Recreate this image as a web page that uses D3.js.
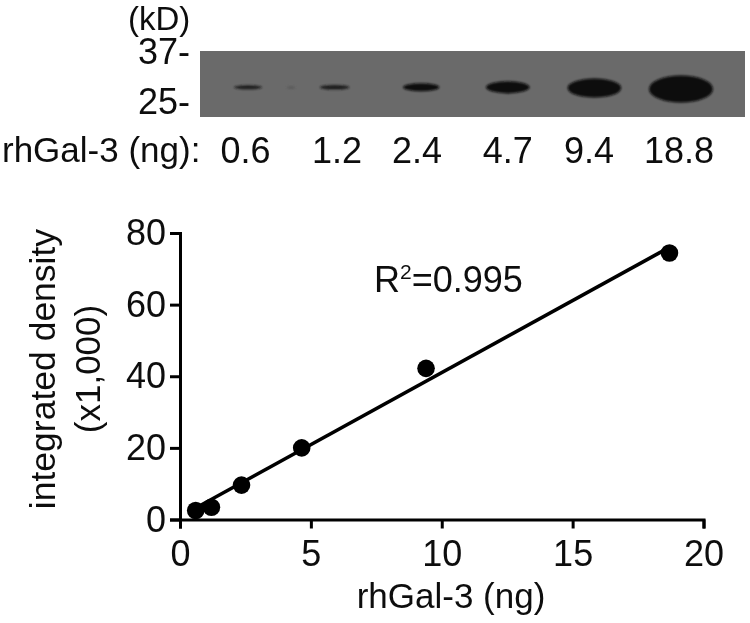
<!DOCTYPE html>
<html>
<head>
<meta charset="utf-8">
<script src="https://cdnjs.cloudflare.com/ajax/libs/d3/7.8.5/d3.min.js"></script>
<style>
html, body { margin: 0; padding: 0; background: #fff; }
svg { display: block; }
text { font-family: "Liberation Sans", Arial, sans-serif; fill: #111; }
</style>
</head>
<body>
<div id="chart"></div>
<script>
// blot lanes
var laneLabels = ["0.6", "1.2", "2.4", "4.7", "9.4", "18.8"];
var laneDensity = [2.5, 3.4, 9.6, 20, 42.2, 74.4];
var mwLabels = ["37-", "25-"];

// standard curve
var amounts = [0.6, 1.2, 2.35, 4.65, 9.4, 18.7];
var density = [2.5, 3.4, 9.6, 20, 42.2, 74.4];
var fitX = [0.6, 18.45];
var fitY = [3.2, 75];
var xTicks = [0, 5, 10, 15, 20];
var yTicks = [0, 20, 40, 60, 80];

var width = 750, height = 623;

var svg = d3.select("#chart").append("svg")
	.attr("width", width)
	.attr("height", height);

var defs = svg.append("defs");
defs.append("filter").attr("id", "bandBlur")
	.attr("x", "-50%").attr("y", "-100%").attr("width", "200%").attr("height", "300%")
	.append("feGaussianBlur").attr("stdDeviation", 1.3);
defs.append("filter").attr("id", "soft")
	.attr("x", "-5%").attr("y", "-5%").attr("width", "110%").attr("height", "110%")
	.append("feGaussianBlur").attr("stdDeviation", 0.45);

// ---- blot ----
var blot = svg.append("g");

blot.append("rect")
	.attr("x", 200).attr("y", 51)
	.attr("width", 545).attr("height", 66)
	.attr("fill", "#6a6a6a");

var laneX = d3.scalePoint().domain(laneLabels).range([248, 681]);
var rx = d3.scalePow().exponent(0.45).domain([2.5, 74.4]).range([14, 32]);
var ry = d3.scalePow().exponent(0.65).domain([2.5, 74.4]).range([2, 13.5]);

// little smudge between the first two lanes
blot.append("ellipse")
	.attr("cx", 291).attr("cy", 87.5)
	.attr("rx", 4).attr("ry", 1)
	.attr("fill", "#555")
	.attr("filter", "url(#bandBlur)");

blot.selectAll("ellipse.band")
	.data(laneLabels)
	.enter().append("ellipse")
	.attr("class", "band")
	.attr("cx", function(d) { return laneX(d); })
	.attr("cy", function(d, i) { return i < 4 ? 87.3 : 84 + i; })
	.attr("rx", function(d, i) { return rx(laneDensity[i]); })
	.attr("ry", function(d, i) { return ry(laneDensity[i]); })
	.attr("fill", function(d, i) { return i < 2 ? "#1e1e1e" : "#0d0d0d"; })
	.attr("filter", "url(#bandBlur)");

var labels = svg.append("g").attr("filter", "url(#soft)");

labels.append("text")
	.attr("x", 128).attr("y", 30)
	.attr("font-size", 33)
	.text("(kD)");

labels.selectAll("text.mw")
	.data(mwLabels)
	.enter().append("text")
	.attr("class", "mw")
	.attr("x", 190)
	.attr("y", function(d, i) { return i == 0 ? 64 : 114; })
	.attr("text-anchor", "end")
	.attr("font-size", 36)
	.text(function(d) { return d; });

labels.append("text")
	.attr("x", 2).attr("y", 162)
	.attr("font-size", 35)
	.text("rhGal-3 (ng):");

var laneShift = [-2.5, 2.4, -4.2, 0, -5.4, -2];
labels.selectAll("text.lane")
	.data(laneLabels)
	.enter().append("text")
	.attr("class", "lane")
	.attr("x", function(d, i) { return laneX(d) + laneShift[i]; })
	.attr("y", 163)
	.attr("text-anchor", "middle")
	.attr("font-size", 36)
	.text(function(d) { return d; });

// ---- curve ----
var x = d3.scaleLinear().domain([0, 20]).range([180, 703.5]);
var y = d3.scaleLinear().domain([0, 80]).range([519.5, 233]);

var plot = svg.append("g").attr("filter", "url(#soft)");

var xAxis = plot.append("g")
	.attr("transform", "translate(0,519.5)")
	.call(d3.axisBottom(x).tickValues(xTicks).tickSize(9).tickPadding(12).tickFormat(d3.format("d")));

var yAxis = plot.append("g")
	.attr("transform", "translate(180,0)")
	.call(d3.axisLeft(y).tickValues(yTicks).tickSize(10).tickPadding(4).tickFormat(d3.format("d")));

[xAxis, yAxis].forEach(function(a) {
	a.selectAll("path").attr("stroke", "#000").attr("stroke-width", 3);
	a.selectAll("line").attr("stroke", "#000").attr("stroke-width", 3);
	a.selectAll("text").attr("font-size", 36).attr("font-family", "Liberation Sans").attr("fill", "#111");
});

var line = d3.line()
	.x(function(d) { return x(d); })
	.y(function(d, i) { return y(fitY[i]); });

plot.append("path")
	.attr("d", line(fitX))
	.attr("fill", "none")
	.attr("stroke", "#000")
	.attr("stroke-width", 3.5);

plot.selectAll("circle")
	.data(amounts)
	.enter().append("circle")
	.attr("cx", function(d) { return x(d); })
	.attr("cy", function(d, i) { return y(density[i]); })
	.attr("r", 8.8)
	.attr("fill", "#000");

var r2 = plot.append("text")
	.attr("x", 374).attr("y", 292)
	.attr("font-size", 36);
r2.append("tspan").text("R");
r2.append("tspan").attr("dy", -13).attr("font-size", 21).text("2");
r2.append("tspan").attr("dy", 13).text("=0.995");

plot.append("text")
	.attr("x", 451).attr("y", 608)
	.attr("text-anchor", "middle")
	.attr("font-size", 35)
	.text("rhGal-3 (ng)");

plot.append("text")
	.attr("transform", "translate(55,369) rotate(-90)")
	.attr("text-anchor", "middle")
	.attr("font-size", 35.5)
	.text("integrated density");

plot.append("text")
	.attr("transform", "translate(100,369) rotate(-90)")
	.attr("text-anchor", "middle")
	.attr("font-size", 35)
	.text("(x1,000)");
</script>
</body>
</html>
